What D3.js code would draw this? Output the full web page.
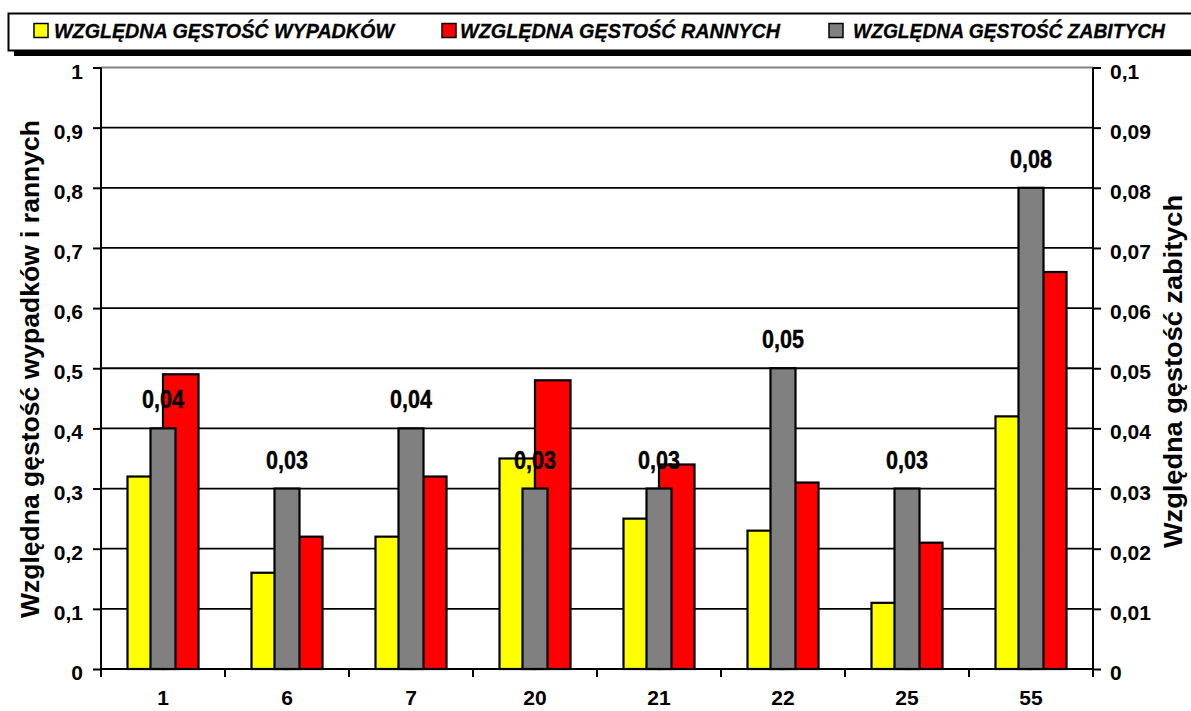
<!DOCTYPE html>
<html>
<head>
<meta charset="utf-8">
<script src="https://cdn.jsdelivr.net/npm/d3@7"></script>
<style>
  html, body { margin: 0; padding: 0; background: #fff; }
  svg { display: block; font-family: "Liberation Sans", Arial, sans-serif; }
</style>
</head>
<body>
<svg id="chart" width="1191" height="711"></svg>
<script>
// Road sections and relative densities
const categories = ["1", "6", "7", "20", "21", "22", "25", "55"];
const accidents  = [0.32, 0.16, 0.22, 0.35, 0.25, 0.23, 0.11, 0.42];   // left axis
const injured    = [0.49, 0.22, 0.32, 0.48, 0.34, 0.31, 0.21, 0.66];   // left axis
const killed     = [0.04, 0.03, 0.04, 0.03, 0.03, 0.05, 0.03, 0.08];   // right axis
const leftTicks  = [0, 0.1, 0.2, 0.3, 0.4, 0.5, 0.6, 0.7, 0.8, 0.9, 1];
const rightTicks = [0, 0.01, 0.02, 0.03, 0.04, 0.05, 0.06, 0.07, 0.08, 0.09, 0.1];

const seriesNames = ["WZGLĘDNA GĘSTOŚĆ WYPADKÓW", "WZGLĘDNA GĘSTOŚĆ RANNYCH", "WZGLĘDNA GĘSTOŚĆ ZABITYCH"];
const seriesColors = ["#FFFF00", "#FF0000", "#808080"];

const fmt = v => String(v).replace(".", ",");

const svg = d3.select("#chart");
const plotLeft = 101, plotRight = 1093, plotTop = 67.5, plotBottom = 669;

const x = d3.scaleBand().domain(categories).range([plotLeft, plotRight]).padding(0);
const xPrimary = d3.scaleBand().domain(["acc", "inj"]).range([0, x.bandwidth()])
  .paddingInner(0).paddingOuter(0.746);
const xSecondary = d3.scaleBand().domain(["kil"]).range([0, x.bandwidth()])
  .paddingInner(0).paddingOuter(1.98);
const yL = d3.scaleLinear().domain([0, 1]).range([plotBottom, plotTop]);
const yR = d3.scaleLinear().domain([0, 0.1]).range([plotBottom, plotTop]);

// Horizontal gridlines
svg.append("g").selectAll("line")
  .data(leftTicks.filter(t => t > 0))
  .join("line")
  .attr("x1", plotLeft).attr("x2", plotRight)
  .attr("y1", d => yL(d)).attr("y2", d => yL(d))
  .attr("stroke", d => d === 1 ? "#808080" : "#000")
  .attr("stroke-width", 1.8);

// Primary bars (accidents, injured)
const primary = categories.map((c, i) => [
  { cat: c, key: "acc", v: accidents[i], color: seriesColors[0] },
  { cat: c, key: "inj", v: injured[i], color: seriesColors[1] }
]).flat();

svg.append("g").selectAll("rect")
  .data(primary)
  .join("rect")
  .attr("x", d => x(d.cat) + xPrimary(d.key))
  .attr("width", xPrimary.bandwidth())
  .attr("y", d => yL(d.v))
  .attr("height", d => yL(0) - yL(d.v))
  .attr("fill", d => d.color)
  .attr("stroke", "#000")
  .attr("stroke-width", 2.2);

// Secondary bars (killed) on the right axis
const secondary = categories.map((c, i) => ({ cat: c, v: killed[i] }));
svg.append("g").selectAll("rect")
  .data(secondary)
  .join("rect")
  .attr("x", d => x(d.cat) + xSecondary("kil"))
  .attr("width", xSecondary.bandwidth())
  .attr("y", d => yR(d.v))
  .attr("height", d => yR(0) - yR(d.v))
  .attr("fill", seriesColors[2])
  .attr("stroke", "#000")
  .attr("stroke-width", 2.2);

// Value labels above the killed bars
svg.append("g").selectAll("text")
  .data(secondary)
  .join("text")
  .attr("x", d => x(d.cat) + x.bandwidth() / 2)
  .attr("y", d => yR(d.v) - 20)
  .attr("text-anchor", "middle")
  .attr("font-size", 25)
  .attr("font-weight", "bold")
  .attr("stroke", "#000").attr("stroke-width", 0.4)
  .attr("textLength", 42)
  .attr("lengthAdjust", "spacingAndGlyphs")
  .text(d => fmt(d.v));

// Left axis
const gL = svg.append("g").attr("transform", `translate(${plotLeft},0)`)
  .call(d3.axisLeft(yL).tickValues(leftTicks).tickFormat(fmt).tickSize(8).tickPadding(10));
// Right axis
const gR = svg.append("g").attr("transform", `translate(${plotRight},0)`)
  .call(d3.axisRight(yR).tickValues(rightTicks).tickFormat(fmt).tickSize(8).tickPadding(9));
// Category axis
const gB = svg.append("g").attr("transform", `translate(0,${plotBottom})`)
  .call(d3.axisBottom(x).tickSize(0).tickPadding(21));

[gL, gR, gB].forEach(g => {
  g.select(".domain").attr("stroke", "#000").attr("stroke-width", 2);
  g.selectAll(".tick line").attr("stroke", "#000").attr("stroke-width", 2);
  g.selectAll(".tick text")
    .attr("font-family", "Liberation Sans, Arial, sans-serif")
    .attr("font-size", 21).attr("font-weight", "bold").attr("fill", "#000");
});
gL.selectAll(".tick text").attr("dy", "0.5em");
gR.selectAll(".tick text").attr("dy", "0.5em");
gB.selectAll(".tick text").attr("dy", "0.71em");
gL.select(".domain").attr("d", `M0,${plotTop}V${plotBottom + 8}`);
gR.select(".domain").attr("d", `M0,${plotTop}V${plotBottom + 8}`);
gB.select(".domain").attr("d", `M${plotLeft},0H${plotRight}`);

// Tick marks at category boundaries
svg.append("g").selectAll("line")
  .data(d3.range(categories.length + 1))
  .join("line")
  .attr("x1", i => plotLeft + i * x.step()).attr("x2", i => plotLeft + i * x.step())
  .attr("y1", plotBottom).attr("y2", plotBottom + 8)
  .attr("stroke", "#000").attr("stroke-width", 2);

// Axis titles
svg.append("text")
  .attr("transform", "translate(39,369) rotate(-90)")
  .attr("text-anchor", "middle")
  .attr("font-size", 26).attr("font-weight", "bold")
  .attr("textLength", 498).attr("lengthAdjust", "spacingAndGlyphs")
  .text("Względna gęstość wypadków i rannych");

svg.append("text")
  .attr("transform", "translate(1182,371.5) rotate(-90)")
  .attr("text-anchor", "middle")
  .attr("font-size", 26).attr("font-weight", "bold")
  .attr("textLength", 353).attr("lengthAdjust", "spacingAndGlyphs")
  .text("Względna gęstość zabitych");

// Legend box with drop shadow
const legend = svg.append("g");
legend.append("rect").attr("x", 14).attr("y", 19).attr("width", 1200).attr("height", 37).attr("fill", "#000");
legend.append("rect").attr("x", 8.5).attr("y", 13.5).attr("width", 1200).attr("height", 37)
  .attr("fill", "#fff").attr("stroke", "#000").attr("stroke-width", 2);

const legendItems = [
  { name: seriesNames[0], color: seriesColors[0], sx: 34, tx: 54, len: 340 },
  { name: seriesNames[1], color: seriesColors[1], sx: 442, tx: 460, len: 320 },
  { name: seriesNames[2], color: seriesColors[2], sx: 829, tx: 853, len: 312 }
];
const li = legend.selectAll("g.item").data(legendItems).join("g").attr("class", "item");
li.append("rect")
  .attr("x", d => d.sx).attr("y", 23.5).attr("width", 14).attr("height", 14)
  .attr("fill", d => d.color).attr("stroke", "#000").attr("stroke-width", 1.5);
li.append("text")
  .attr("x", d => d.tx).attr("y", 37.5)
  .attr("font-size", 20).attr("font-weight", "bold").attr("font-style", "italic")
  .attr("stroke", "#000").attr("stroke-width", 0.3)
  .attr("textLength", d => d.len).attr("lengthAdjust", "spacingAndGlyphs")
  .text(d => d.name);
</script>
</body>
</html>
